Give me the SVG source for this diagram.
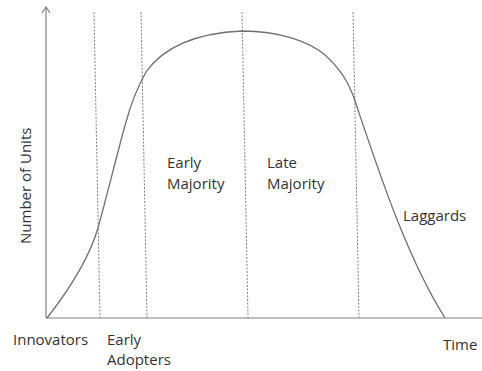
<svg xmlns="http://www.w3.org/2000/svg" width="482" height="371" viewBox="0 0 482 371">
<defs>
<style>
.ax{stroke:#808080;stroke-width:1.2;fill:none}
.dash{stroke:#808080;stroke-width:1;stroke-dasharray:2,1.5;fill:none}
.curve{stroke:#707070;stroke-width:1.3;fill:none}
text{font-family:"Open Sans","Liberation Sans",sans-serif;font-size:15px;fill:#333}
</style>
<marker id="arr" viewBox="0 0 10 10" refX="9" refY="5" markerWidth="10" markerHeight="10" orient="auto" markerUnits="userSpaceOnUse">
<path d="M3,1 L9,5 L3,9" fill="none" stroke="#808080" stroke-width="1.2"/>
</marker>
</defs>
<rect width="482" height="371" fill="#fff"/>
<g id="connectors">
<line class="ax" x1="46" y1="318" x2="46" y2="7" marker-end="url(#arr)"/>
<line class="ax" x1="46" y1="318" x2="482" y2="318"/>
<line class="dash" x1="94" y1="12" x2="100" y2="318"/>
<line class="dash" x1="141" y1="12" x2="147" y2="318"/>
<line class="dash" x1="242" y1="12" x2="248" y2="318"/>
<line class="dash" x1="353" y1="12" x2="359" y2="318"/>
<path class="curve" d="M47,318 C65,295 88,262 98,228 C108,192 118,150 126,122 C132,100 137,88 146,72 C165,45 200,33 242,31 C280,31 310,42 325,55 C340,68 348,82 353,95 C375,160 405,255 445,318"/>
</g>
<g id="y-label"><text transform="translate(31,244) rotate(-90)">Number of Units</text></g>
<g id="innovators"><text x="13" y="345">Innovators</text></g>
<g id="early-adopters"><text x="107" y="345">Early</text><text x="107" y="365">Adopters</text></g>
<g id="early-majority"><text x="167" y="168">Early</text><text x="167" y="189">Majority</text></g>
<g id="late-majority"><text x="267" y="168">Late</text><text x="267" y="189">Majority</text></g>
<g id="laggards"><text x="403" y="221">Laggards</text></g>
<g id="time"><text x="443" y="350">Time</text></g>
</svg>
